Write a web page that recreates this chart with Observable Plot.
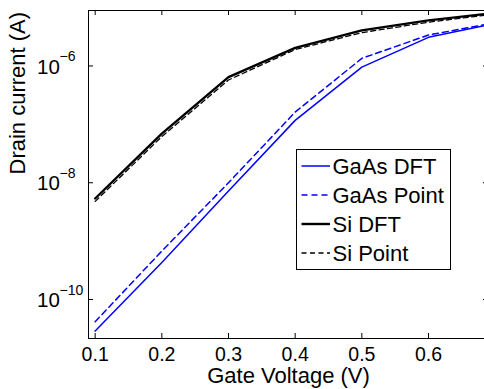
<!DOCTYPE html>
<html><head><meta charset="utf-8">
<script src="https://cdn.jsdelivr.net/npm/d3@7"></script>
<script src="https://cdn.jsdelivr.net/npm/@observablehq/plot@0.6"></script>
<style>
body{margin:0;overflow:hidden;background:#fff;}
#wrap{position:relative;width:484px;height:389px;overflow:hidden;}
#wrap svg{display:block;max-width:none !important;}
</style></head><body><div id="wrap"></div>
<script>
// Data (drain current in A)
const gateVoltage = [0.1, 0.2, 0.3, 0.4, 0.5, 0.6, 0.7];
const gaasDFT   = [2.88e-11, 4.32e-10, 7.24e-9, 1.17e-7, 9.55e-7, 3.09e-6, 5.37e-6];
const gaasPoint = [4.17e-11, 6.76e-10, 1.00e-8, 1.62e-7, 1.35e-6, 3.39e-6, 5.50e-6];
const siDFT     = [5.37e-9, 6.92e-8, 6.46e-7, 2.04e-6, 4.07e-6, 6.03e-6, 8.13e-6];
const siPoint   = [4.79e-9, 6.17e-8, 5.75e-7, 1.91e-6, 3.72e-6, 5.62e-6, 7.76e-6];
const seriesNames = ["GaAs DFT", "GaAs Point", "Si DFT", "Si Point"];
const xTicks = [0.1, 0.2, 0.3, 0.4, 0.5, 0.6];
const yTicks = [1e-10, 1e-8, 1e-6];
const yTickBase = ["10", "10", "10"];
const yTickExp = ["\u221210", "\u22128", "\u22126"];
const xLabel = "Gate Voltage (V)";
const yLabel = "Drain current (A)";

const seriesValues = [gaasDFT, gaasPoint, siDFT, siPoint];
const styles = [
  {stroke: "#0000ff", strokeWidth: 1.5, dash: null},
  {stroke: "#0000ff", strokeWidth: 1.5, dash: "6,4"},
  {stroke: "#000000", strokeWidth: 2.4, dash: null},
  {stroke: "#000000", strokeWidth: 1.3, dash: "5,3.5"}
];
const rows = seriesNames.flatMap((s, i) => gateVoltage.map((v, j) => ({series: s, v, I: seriesValues[i][j]})));

const W = 489, H = 389, ML = 88, MR = 1, MT = 10, MB = 51;
const plotW = W - ML - MR, plotH = H - MT - MB;
const font = "'Liberation Sans', Arial, Helvetica, sans-serif";

const lineMarks = seriesNames.map((s, i) => Plot.line(rows.filter(r => r.series === s), {
  x: "v", y: "I", stroke: styles[i].stroke, strokeWidth: styles[i].strokeWidth,
  strokeDasharray: styles[i].dash, clip: true
}));

const chart = Plot.plot({
  width: W, height: H, marginLeft: ML, marginRight: MR, marginTop: MT, marginBottom: MB,
  style: {fontFamily: font, fontSize: "20px", background: "white", color: "black", maxWidth: "none"},
  x: {domain: [0.09, 0.69], axis: null},
  y: {type: "log", domain: [2.15e-11, 8.91e-6], axis: null},
  marks: [
    ...lineMarks,
    Plot.frame({stroke: "black", strokeWidth: 1}),
    Plot.tickX(xTicks, {x: d => d, insetTop: plotH - 5, stroke: "black"}),
    Plot.tickX(xTicks, {x: d => d, insetBottom: plotH - 5, stroke: "black"}),
    Plot.tickY(yTicks, {y: d => d, insetRight: plotW - 5, stroke: "black"}),
    Plot.tickY(yTicks, {y: d => d, insetLeft: plotW - 5, stroke: "black"}),
    Plot.text(xTicks, {x: d => d, frameAnchor: "bottom", text: d => d.toFixed(1), dy: 16, lineAnchor: "middle", fontSize: 19.5, fill: "black"}),
    Plot.text(yTicks, {y: d => d, frameAnchor: "left", text: (d, i) => yTickBase[i], textAnchor: "start", dx: -51.5, dy: 1, lineAnchor: "middle", fontSize: 20.5, fill: "black"}),
    Plot.text(yTicks, {y: d => d, frameAnchor: "left", text: (d, i) => yTickExp[i], textAnchor: "start", dx: -29, dy: -9.5, lineAnchor: "middle", fontSize: 14, fill: "black"}),
    Plot.text([xLabel], {frameAnchor: "bottom", text: d => d, dy: 37.4, lineAnchor: "middle", fontSize: 22, fill: "black"}),
    Plot.text([yLabel], {frameAnchor: "left", text: d => d, rotate: -90, dx: -70.5, lineAnchor: "middle", fontSize: 22, fill: "black"})
  ]
});

// Legend box (MATLAB style) drawn inside the svg
const lg = d3.select(chart).append("g").attr("font-family", font).attr("font-size", 22).attr("text-anchor", "start");
lg.append("rect").attr("x", 296.5).attr("y", 149.5).attr("width", 154).attr("height", 120)
  .attr("fill", "white").attr("stroke", "black").attr("stroke-width", 1);
const rowY = [166, 195, 224, 253];
seriesNames.forEach((s, i) => {
  lg.append("line").attr("x1", 301.5).attr("x2", 330).attr("y1", rowY[i]).attr("y2", rowY[i])
    .attr("stroke", styles[i].stroke).attr("stroke-width", styles[i].strokeWidth)
    .attr("stroke-dasharray", styles[i].dash);
  lg.append("text").attr("x", 332.5).attr("y", rowY[i]).attr("dy", "0.36em").attr("fill", "black").text(s);
});

document.getElementById("wrap").appendChild(chart);
</script>
</body></html>
